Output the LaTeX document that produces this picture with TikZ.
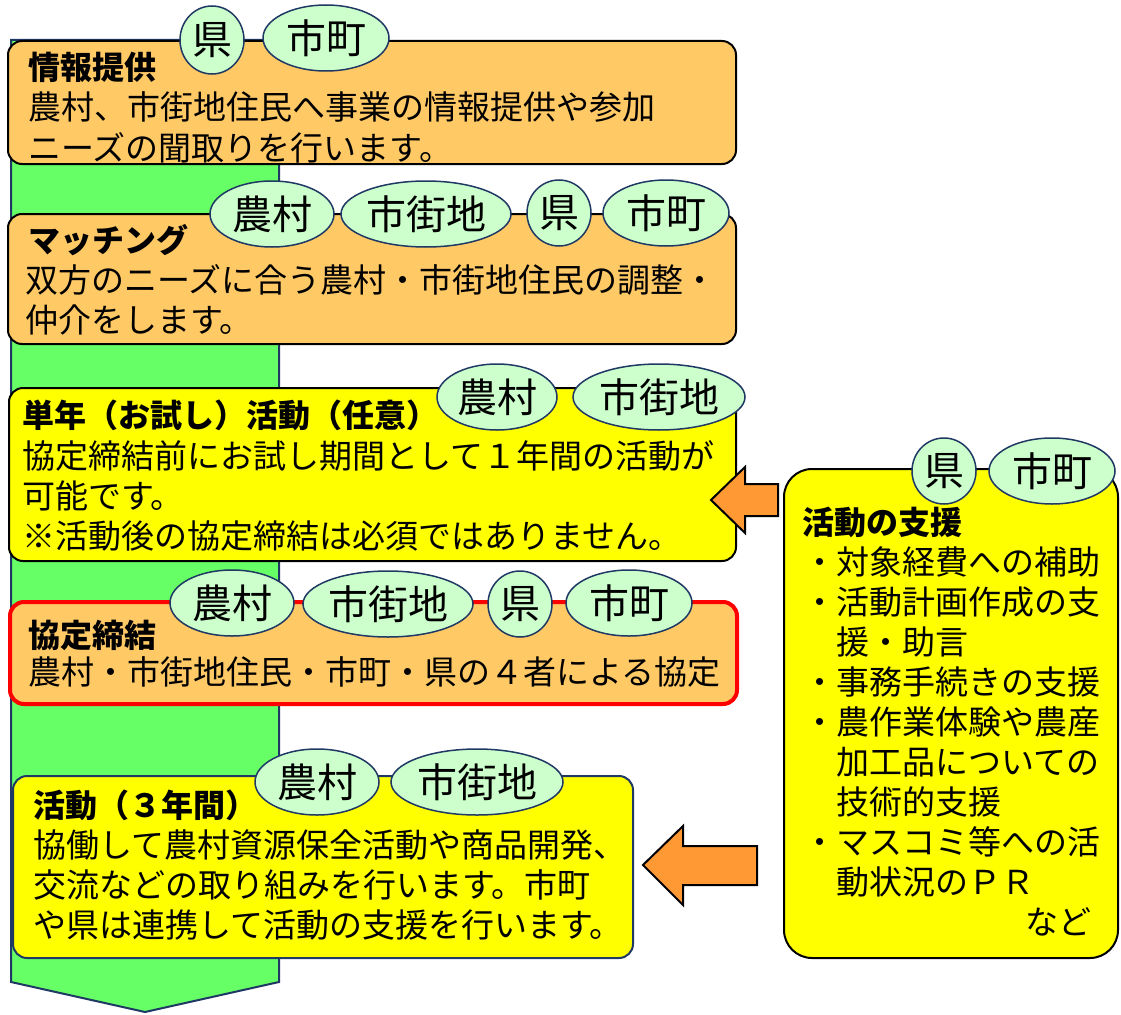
\documentclass[tikz,border=0pt]{standalone}
\usepackage{fontspec}
\setmainfont{Noto Sans CJK JP}
\usetikzlibrary{shapes.geometric}
\definecolor{orng}{HTML}{FFC966}
\definecolor{yel}{HTML}{FFFF00}
\definecolor{mint}{HTML}{CCFFCC}
\definecolor{navy}{HTML}{1F3864}
\definecolor{flowg}{HTML}{66FF66}
\definecolor{arr}{HTML}{FF9933}
\tikzset{
  box/.style={draw=black,line width=2pt,rounded corners=14pt,anchor=north west,inner sep=0pt},
  obox/.style={box,fill=orng},
  ybox/.style={box,fill=yel},
  rbox/.style={obox,draw=red,line width=4pt},
  tag/.style={ellipse,draw=navy,line width=1.5pt,fill=mint,inner sep=0pt,minimum height=66pt,font=\fontsize{40}{40}\selectfont},
  ttl/.style={anchor=base west,inner sep=0pt,font=\fontsize{32}{40}\selectfont\bfseries},
  txt/.style={anchor=base west,inner sep=0pt,align=left,font=\fontsize{33}{40}\selectfont},
  flow/.style={fill=flowg,draw=navy,line width=2pt},
  bigar/.style={fill=arr,draw=black,line width=2pt,line join=miter},
}
\begin{document}
\begin{tikzpicture}[x=1pt,y=-1pt]
\useasboundingbox (0,0) rectangle (1121,1014);
% flow
\draw[flow] (11,40) -- (279,40) -- (279,982) -- (145,1012) -- (11,982) -- cycle;
% step boxes
\node[obox,minimum width=728pt,minimum height=123pt] (info) at (7,40) {};
\node[obox,minimum width=728pt,minimum height=130pt] (match) at (7,213) {};
\node[ybox,minimum width=727pt,minimum height=173pt] (trial) at (8,387) {};
\node[rbox,minimum width=727pt,minimum height=102pt] (agree) at (8,600) {};
\node[ybox,draw=navy,minimum width=620pt,minimum height=182pt] (act) at (12,775) {};
\node[ybox,rounded corners=28pt,minimum width=334pt,minimum height=489pt] (supp) at (783,468) {};
% texts (base = last line)
\node[ttl] (infot) at (28,80) {情報提供};
\node[txt] (infob) at (28,160) {農村、市街地住民へ事業の情報提供や参加\\ニーズの聞取りを行います。};
\node[ttl] (matcht) at (28,252) {マッチング};
\node[txt] (matchb) at (25,332) {双方のニーズに合う農村・市街地住民の調整・\\仲介をします。};
\node[ttl] (trialt) at (22,427) {単年（お試し）活動（任意）};
\node[txt] (trialb) at (22,548) {協定締結前にお試し期間として１年間の活動が\\可能です。\\※活動後の協定締結は必須ではありません。};
\node[ttl] (agreet) at (28,647) {協定締結};
\node[txt] (agreeb) at (28,684) {農村・市街地住民・市町・県の４者による協定};
\node[ttl] (actt) at (33,817) {活動（３年間）};
\node[txt] (actb) at (33,937) {協働して農村資源保全活動や商品開発、\\交流などの取り組みを行います。市町\\や県は連携して活動の支援を行います。};
\node[ttl] (suppt) at (802,534) {活動の支援};
\node[txt] (suppb) at (803,894) {・対象経費への補助\\・活動計画作成の支\\　援・助言\\・事務手続きの支援\\・農作業体験や農産\\　加工品についての\\　技術的支援\\・マスコミ等への活\\　動状況のＰＲ};
\node[txt,anchor=base east] (suppe) at (1092,934) {など};
% tags
\node[tag,minimum width=64pt,minimum height=68pt] (k1) at (212,40) {県};
\node[tag,minimum width=126pt] (c1) at (326,38) {市町};
\node[tag,minimum width=124pt] (n2) at (272,214) {農村};
\node[tag,minimum width=170pt] (s2) at (426,214) {市街地};
\node[tag,minimum width=64pt] (k2) at (559,213) {県};
\node[tag,minimum width=126pt] (c2) at (666,213) {市町};
\node[tag,minimum width=120pt] (n3) at (497,397) {農村};
\node[tag,minimum width=172pt] (s3) at (659,397) {市街地};
\node[tag,minimum width=124pt] (n4) at (232,603) {農村};
\node[tag,minimum width=170pt] (s4) at (388,604) {市街地};
\node[tag,minimum width=64pt] (k4) at (520,604) {県};
\node[tag,minimum width=126pt] (c4) at (629,603) {市町};
\node[tag,minimum width=124pt] (n5) at (317,782) {農村};
\node[tag,minimum width=172pt] (s5) at (477,782) {市街地};
\node[tag,minimum width=64pt] (k6) at (944,471) {県};
\node[tag,minimum width=126pt] (c6) at (1052,471) {市町};
% support arrows
\draw[bigar] (711,500) -- (745,467) -- (745,484) -- (778,484) -- (778,516) -- (745,516) -- (745,533) -- cycle;
\draw[bigar] (643,865) -- (683,826) -- (683,846) -- (757,846) -- (757,885) -- (683,885) -- (683,905) -- cycle;
\end{tikzpicture}
\end{document}
